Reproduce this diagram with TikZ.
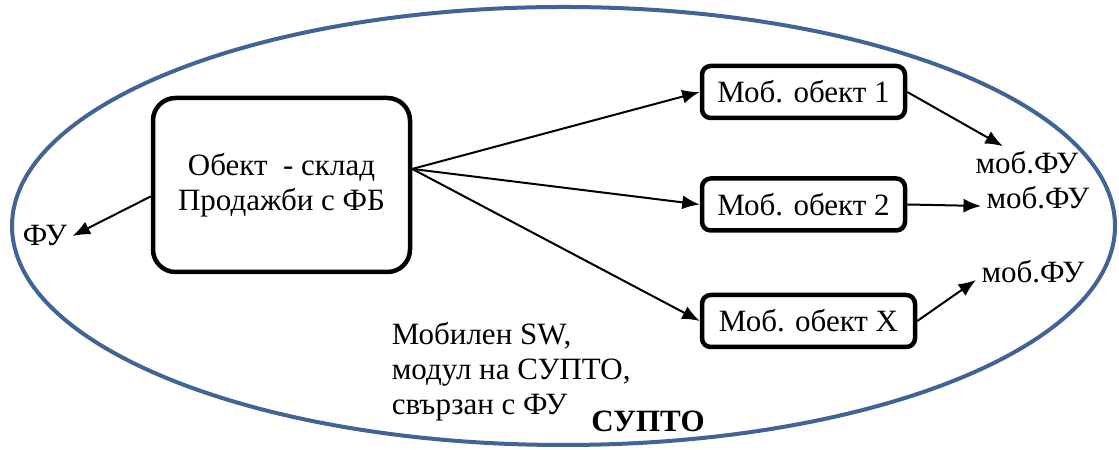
\documentclass[tikz,border=0pt]{standalone}
\usepackage{fontspec}
\setmainfont{Liberation Serif}
\usetikzlibrary{arrows.meta,positioning}
\definecolor{suptoblue}{RGB}{64,100,150}
\tikzset{
        block/.style = {draw, rectangle, rounded corners=3.5pt,
            line width=1.8pt, inner sep=0pt,
            minimum height=20.8pt,
            minimum width=81.2pt},
        bigblock/.style = {block, rounded corners=9pt,
            minimum height=69.6pt,
            minimum width=102.8pt},
        fulabel/.style = {inner sep=2pt},
        arrow/.style={draw, -{Latex[length=7pt,width=5.6pt]}, line width=0.8pt},
    }

\begin{document}
\begin{tikzpicture}[x=0.4pt,y=-0.4pt,font=\fontsize{12.4}{14}\selectfont]
    \useasboundingbox (0,0) rectangle (1119,450);
    \draw[suptoblue, line width=1.6pt] (563.5,226) ellipse [x radius=220.6pt, y radius=87.6pt];

    \node[bigblock, align=center] (obj) at (281.5,185) {Обект\ \ - склад\\Продажби с ФБ};
    \node[block] (b1) at (803.5,92) {Моб. обект 1};
    \node[block, below=22.4pt of b1] (b2) {Моб. обект 2};
    \node[block, minimum width=85.2pt, below=24pt of b2.south west, anchor=north west] (bx) {Моб. обект X};

    \node[fulabel] (fu) at (45,236) {ФУ};
    \node[fulabel, anchor=west] (m1) at (970,163) {моб.ФУ};
    \node[fulabel, anchor=west] (m2) at (981,198) {моб.ФУ};
    \node[fulabel, anchor=west] (m3) at (976,272) {моб.ФУ};

    \node[align=left, anchor=west] (sw) at (383,372) {Мобилен SW,\\модул на СУПТО,\\свързан с ФУ};
    \node[font=\fontsize{12.4}{14}\selectfont\bfseries] (supto) at (648,421) {СУПТО};

    \draw[arrow] (obj.185) -- (fu.east);
    \foreach \b in {b1,b2,bx}
        \draw[arrow] (obj.7.5) -- (\b.west);
    \draw[arrow] (b1.east) -- (m1.145);
    \draw[arrow] (b2.east) -- (m2.188);
    \draw[arrow] (bx.east) -- (m3.188);
\end{tikzpicture}
\end{document}
